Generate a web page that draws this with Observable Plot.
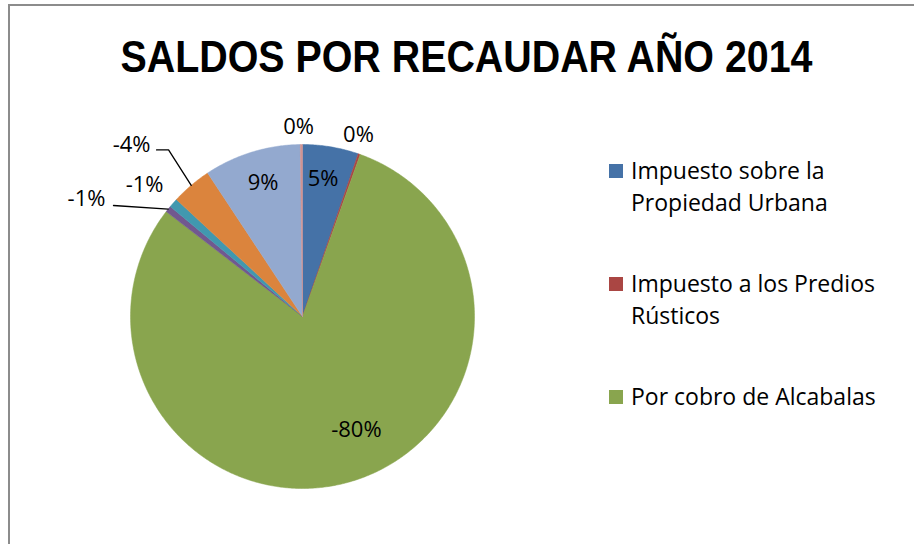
<!DOCTYPE html>
<html>
<head>
<meta charset="utf-8">
<script src="https://cdn.jsdelivr.net/npm/d3@7"></script>
<script src="https://cdn.jsdelivr.net/npm/@observablehq/plot@0.6"></script>
<style>
  body { margin: 0; background: #fff; }
  #wrap { position: relative; width: 914px; height: 544px; overflow: hidden; background: #fff; font-family: "Open Sans", sans-serif; color: #000; }
  #frame { position: absolute; left: 8px; top: 4px; width: 940px; height: 580px; border-left: 2px solid #8c8c8c; border-top: 2px solid #8c8c8c; pointer-events: none; z-index: 5; }
  #title { position: absolute; left: 0; top: 34px; width: 932px; text-align: center; white-space: nowrap; z-index: 3;
           font-family: "Liberation Sans", Arial, sans-serif; font-weight: bold; font-size: 45px; line-height: 45px; }
  #title span { display: inline-block; transform-origin: 50% 50%; }
  #chart { position: absolute; left: 0; top: 0; z-index: 1; }
  .lg-sq { position: absolute; width: 14px; height: 14px; z-index: 3; }
  .lg-tx { position: absolute; width: 260px; font-size: 23px; line-height: 32px; z-index: 3; }
</style>
</head>
<body>
<div id="wrap">
  <div id="frame"></div>
  <div id="title"><span id="titleText"></span></div>
  <div id="chart"></div>
</div>
<script>
// ---- data ----
const title = "SALDOS POR RECAUDAR AÑO 2014";
const categories = [
  "Impuesto sobre la Propiedad Urbana",
  "Impuesto a los Predios Rústicos",
  "Por cobro de Alcabalas",
  "Serie 4",
  "Serie 5",
  "Serie 6",
  "Serie 7",
  "Serie 8"
];
const values = [5.25, 0.2, -80.0, -0.6, -0.86, -3.8, 9.1, 0.2];   // % (sign as labelled)
const colors = ["#4572A7", "#AA4643", "#89A54E", "#71588F", "#4198AF", "#DB843D", "#93A9CF", "#D19392"];
const legendCount = 3; // legend shows only the first three entries

// ---- layout ----
const W = 914, H = 544;
const cx = 302, cy = 316, R = 172;
// label placement: [angle in degrees clockwise from 12 o'clock, radius as fraction of R]
const labelPlacement = [
  [8.5, 0.81], [17.1, 1.107], [154.6, 0.731], [298.65, 1.431],
  [309.8, 1.195], [315.1, 1.408], [343.5, 0.807], [358.8, 1.102]
];
// leader lines: pixel offsets from the label centre, then the slice edge
const leaderOffsets = { 3: [[27, 7]], 5: [[25, 5], [37, 5]] };
const legendTop = [164, 277, 390];

// ---- title ----
const tt = document.getElementById("titleText");
tt.textContent = title;

// ---- pie geometry ----
const pie = d3.pie().sort(null).value(d => Math.abs(d)).startAngle(0).endAngle(2 * Math.PI);
const arcs = pie(values);

const slicePts = [];
arcs.forEach((a, i) => {
  const name = categories[i];
  slicePts.push({ name, x: 0, y: 0 });
  const n = Math.max(2, Math.ceil((a.endAngle - a.startAngle) / (Math.PI / 360)));
  for (let k = 0; k <= n; k++) {
    const t = a.startAngle + (a.endAngle - a.startAngle) * k / n;
    slicePts.push({ name, x: Math.sin(t), y: Math.cos(t) });
  }
  slicePts.push({ name, x: 0, y: 0 });
});

const labels = arcs.map((a, i) => {
  const [deg, r] = labelPlacement[i];
  const t = deg * Math.PI / 180;
  return { name: categories[i], text: Math.round(values[i]) + "%", x: r * Math.sin(t), y: r * Math.cos(t) };
});

const leaderPts = [];
Object.entries(leaderOffsets).forEach(([k, offs]) => {
  const i = +k, a = arcs[i], lab = labels[i];
  offs.forEach(([dx, dy]) => leaderPts.push({ name: categories[i], x: lab.x + dx / R, y: lab.y - dy / R }));
  const mid = (a.startAngle + a.endAngle) / 2;
  leaderPts.push({ name: categories[i], x: Math.sin(mid), y: Math.cos(mid) });
});

const chart = Plot.plot({
  width: W,
  height: H,
  margin: 0,
  style: { background: "transparent", overflow: "visible", fontFamily: "Open Sans, sans-serif" },
  x: { domain: [-1, 1], range: [cx - R, cx + R], axis: null },
  y: { domain: [-1, 1], range: [cy + R, cy - R], axis: null },
  color: { type: "ordinal", domain: categories, range: colors },
  marks: [
    Plot.line(slicePts, { x: "x", y: "y", z: "name", fill: "name", stroke: "name", strokeWidth: 0.5, strokeLinejoin: "round" }),
    Plot.line(leaderPts, { x: "x", y: "y", z: "name", stroke: "#000", strokeWidth: 1.3 }),
    Plot.text(labels, { x: "x", y: "y", text: "text", fontSize: 22, fill: "#000" })
  ]
});
document.getElementById("chart").appendChild(chart);

// ---- legend ----
const wrap = document.getElementById("wrap");
for (let i = 0; i < legendCount; i++) {
  const sq = document.createElement("div");
  sq.className = "lg-sq";
  sq.style.left = "609px";
  sq.style.top = legendTop[i] + "px";
  sq.style.background = colors[i];
  wrap.appendChild(sq);
  const tx = document.createElement("div");
  tx.className = "lg-tx";
  tx.style.left = "631px";
  tx.style.top = (legendTop[i] - 9.6) + "px";
  tx.textContent = categories[i];
  wrap.appendChild(tx);
}

// fit title width to the reference (≈692px)
function fitTitle() {
  tt.style.transform = "none";
  const w = tt.getBoundingClientRect().width;
  if (w > 0) tt.style.transform = "scaleX(" + (692 / w) + ")";
}
fitTitle();
if (document.fonts && document.fonts.ready) document.fonts.ready.then(fitTitle);
</script>
</body>
</html>
